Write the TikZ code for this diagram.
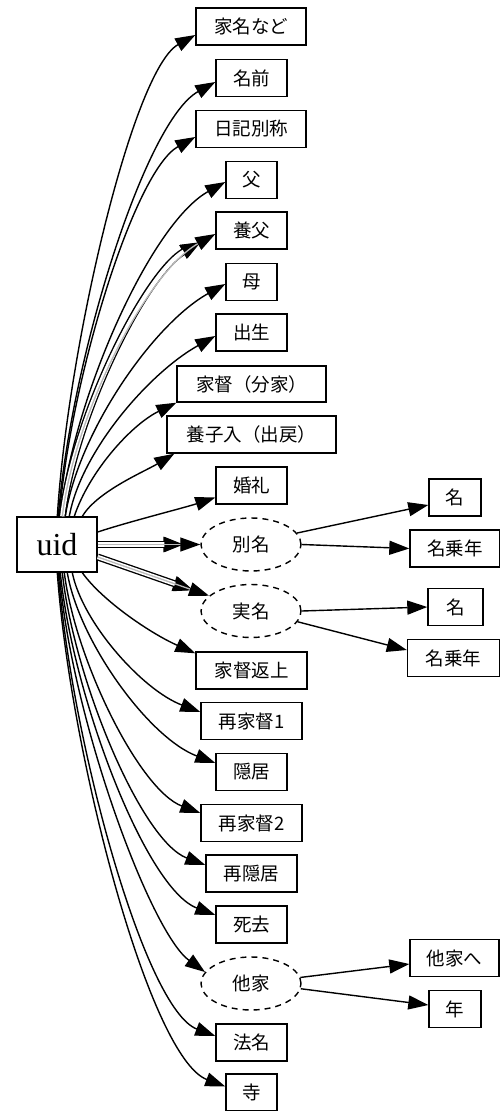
\documentclass[tikz,border=0pt]{standalone}
\usepackage{fontspec}
\setmainfont{Liberation Serif}
\newfontfamily\jpfont{Noto Sans CJK JP}
\usetikzlibrary{arrows.meta,shapes.geometric}
\newcommand\jpf{\fontsize{18.5}{21}\selectfont\jpfont}
\begin{document}
\begin{tikzpicture}[x=1pt,y=-1pt,
  box/.style={draw, line width=1.4pt, minimum height=37pt, inner sep=0pt, font=\jpf},
  ell/.style={ellipse, draw, line width=1.4pt, dash pattern=on 6pt off 5pt, minimum width=100pt, minimum height=53pt, inner sep=0pt, font=\jpf},
  e/.style={draw, line width=1.4pt, -{Triangle[length=20pt,width=14pt]}},
  tri/.style={preaction={draw, line width=7pt, black, shorten >=17pt},
              preaction={draw, line width=4.3pt, white, shorten >=16pt},
              draw=gray!55, line width=1.3pt, -{Triangle[length=20pt,width=14pt,color=black]}}]
\useasboundingbox (0,0) rectangle (500,1111);
\node[draw, line width=1.4pt, minimum width=80pt, minimum height=55pt, inner sep=0pt, font=\fontsize{32}{36}\selectfont] (uid) at (57,544.5) {uid};
% upper column
\node[box, minimum width=110pt] (n1) at (251,26.5) {家名など};
\node[box, minimum width=71pt] (n2) at (251.5,78) {名前};
\node[box, minimum width=110pt] (n3) at (251,129) {日記別称};
\node[box, minimum width=51pt] (n4) at (251.5,180) {父};
\node[box, minimum width=71pt] (n5) at (251.5,230.5) {養父};
\node[box, minimum width=51pt] (n6) at (251.5,282) {母};
\node[box, minimum width=71pt] (n7) at (251.5,332.5) {出生};
\node[box, minimum width=149pt, minimum height=36pt] (n8) at (251.5,384) {家督（分家）};
\node[box, minimum width=169pt] (n9) at (251.5,434.5) {養子入（出戻）};
\node[box, minimum width=71pt] (n10) at (251.5,485.5) {婚礼};
\node[ell] (bm) at (251,544.5) {別名};
\node[ell] (sm) at (251,611) {実名};
% lower column
\node[box, minimum width=111pt] (n11) at (251.5,670.5) {家督返上};
\node[box, minimum width=101pt] (n12) at (251.5,721) {再家督1};
\node[box, minimum width=71pt] (n13) at (251.5,772) {隠居};
\node[box, minimum width=101pt] (n14) at (251.5,823) {再家督2};
\node[box, minimum width=91pt] (n15) at (251.5,873.5) {再隠居};
\node[box, minimum width=71pt] (n16) at (251.5,924.5) {死去};
\node[ell] (tk) at (251,983.5) {他家};
\node[box, minimum width=71pt] (n17) at (251.5,1042.5) {法名};
\node[box, minimum width=51pt] (n18) at (251.5,1092.5) {寺};
% right column
\node[box, minimum width=52pt] (r1) at (455,497.5) {名};
\node[box, minimum width=90pt] (r2) at (455,548.5) {名乗年};
\node[box, minimum width=55pt] (r3) at (455.5,607) {名};
\node[box, minimum width=92pt] (r4) at (453.5,658) {名乗年};
\node[box, minimum width=89pt] (r5) at (454.5,958) {他家へ};
\node[box, minimum width=52pt] (r6) at (455,1009) {年};
% edges upward
\draw[e] ([xshift=41pt]uid.north west) .. controls +(11,-173.5) and +(-62,34.5) .. ([yshift=-8.5pt]n1.west);
\draw[e] ([xshift=42pt]uid.north west) .. controls +(12.6,-156.6) and +(-70.7,39.3) .. ([yshift=-4pt]n2.west);
\draw[e] ([xshift=43pt]uid.north west) .. controls +(10.9,-136.4) and +(-61.2,34) .. ([yshift=-8pt]n3.west);
\draw[e] ([xshift=44pt]uid.north west) .. controls +(13.2,-120.2) and +(-74.3,41.3) .. ([yshift=-2pt]n4.west);
\draw[tri] ([xshift=46pt]uid.north west) .. controls +(12.2,-101.9) and +(-68.9,38.3) .. ([yshift=-3.5pt]n5.west);
\draw[e] ([xshift=49pt]uid.north west) .. controls +(12.8,-83.9) and +(-72,40) .. ([yshift=-2pt]n6.west);
\draw[e] ([xshift=53pt]uid.north west) .. controls +(11.7,-65.2) and +(-65.7,36.5) .. ([yshift=-3.5pt]n7.west);
\draw[e] ([xshift=58pt]uid.north west) .. controls +(15,-45) and +(-45,22) .. (n8.south west);
\draw[e] ([xshift=66pt]uid.north west) .. controls +(15,-25) and +(-30,18) .. ([xshift=8pt]n9.south west);
\draw[e] ([yshift=12.5pt]uid.east) .. controls +(30,-10) and +(-30,10) .. ([yshift=-12pt]n10.west);
\draw[tri] (uid.east) -- (bm.west);
\draw[tri] ([yshift=-12.5pt]uid.east) -- (sm.160);
% edges downward
\draw[e] ([xshift=66pt]uid.south west) .. controls +(20,28) and +(-45,-20) .. ([yshift=-2pt]n11.north west);
\draw[e] ([xshift=56pt]uid.south west) .. controls +(10.2,50.4) and +(-57.6,-21.8) .. ([yshift=9pt]n12.west);
\draw[e] ([xshift=51pt]uid.south west) .. controls +(11.8,68.8) and +(-66.6,-25.2) .. ([yshift=9pt]n13.west);
\draw[e] ([xshift=48pt]uid.south west) .. controls +(10.9,86.8) and +(-61.2,-23.1) .. ([yshift=10pt]n14.west);
\draw[e] ([xshift=46pt]uid.south west) .. controls +(11.4,105.5) and +(-64.4,-24.3) .. ([yshift=8.5pt]n15.west);
\draw[e] ([xshift=44pt]uid.south west) .. controls +(12.4,123.5) and +(-69.8,-26.4) .. ([yshift=9.5pt]n16.west);
\draw[e] ([xshift=43pt]uid.south west) .. controls +(11.6,144) and +(-55,-40) .. (tk.166);
\draw[e] ([xshift=42pt]uid.south west) .. controls +(12.6,167) and +(-70.7,-26.7) .. ([yshift=6.5pt]n17.west);
\draw[e] ([xshift=41pt]uid.south west) .. controls +(13.4,185) and +(-75.6,-28.6) .. ([yshift=6pt]n18.west);
% right edges
\draw[e] (bm.14) -- ([yshift=-7.5pt]r1.west);
\draw[e] (bm.east) -- (r2.west);
\draw[e] (sm.east) -- (r3.west);
\draw[e] (sm.-13) -- ([yshift=8pt]r4.west);
\draw[e] (tk.7) -- ([yshift=-6pt]r5.west);
\draw[e] (tk.-6) -- ([yshift=4pt]r6.west);
\end{tikzpicture}
\end{document}
